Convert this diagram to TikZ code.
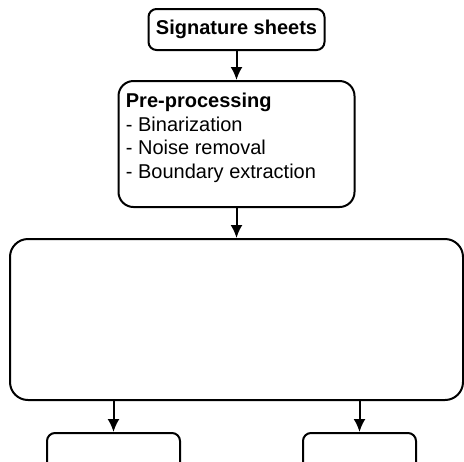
\documentclass[tikz,border=0pt]{standalone}
\usepackage{fontspec}
\setmainfont{Liberation Sans}
\usetikzlibrary{arrows.meta}
\tikzset{>={Latex[length=6.5pt,width=6pt]}}
\tikzset{
  procBox/.style={shape=rectangle, draw=black, line width=1pt, inner sep=0pt, fill=white},
  procText/.style={inner sep=0pt, align=left, font=\fontsize{10}{11.75}\selectfont},
  flowLink/.style={draw=black, ->, line width=1pt}
}

\begin{document}
\begin{tikzpicture}[x=0.5pt, y=-0.5pt]
        \useasboundingbox (0,0) rectangle (464,461);
        \clip (0,0) rectangle (464,461);

        \node (sheets) [procBox, rounded corners=4pt, minimum width=88pt, minimum height=20.5pt, font=\bfseries] at (236.5,29.5) {Signature sheets};
        \node (pre) [procBox, rounded corners=7.5pt, minimum width=118pt, minimum height=63pt] at (236.5,144) {};
        \node (pretxt) [procText, anchor=north west] at (125.5,93) {\textbf{Pre-processing}\\- Binarization\\- Noise removal\\- Boundary extraction};
        \node (feat) [procBox, rounded corners=9pt, minimum width=226.5pt, minimum height=80.5pt] at (236.5,319.5) {};
        \node (lbox) [procBox, rounded corners=4pt, minimum width=66.5pt, minimum height=30pt] at (113.5,463) {};
        \node (rbox) [procBox, rounded corners=4pt, minimum width=56.5pt, minimum height=30pt] at (359.5,463) {};

         \path
    (sheets) edge [flowLink] (pre)
    (pre) edge [flowLink] (feat)
    (feat.south -| lbox) edge [flowLink] (lbox)
    (feat.south -| rbox) edge [flowLink] (rbox);

\end{tikzpicture}
\end{document}
